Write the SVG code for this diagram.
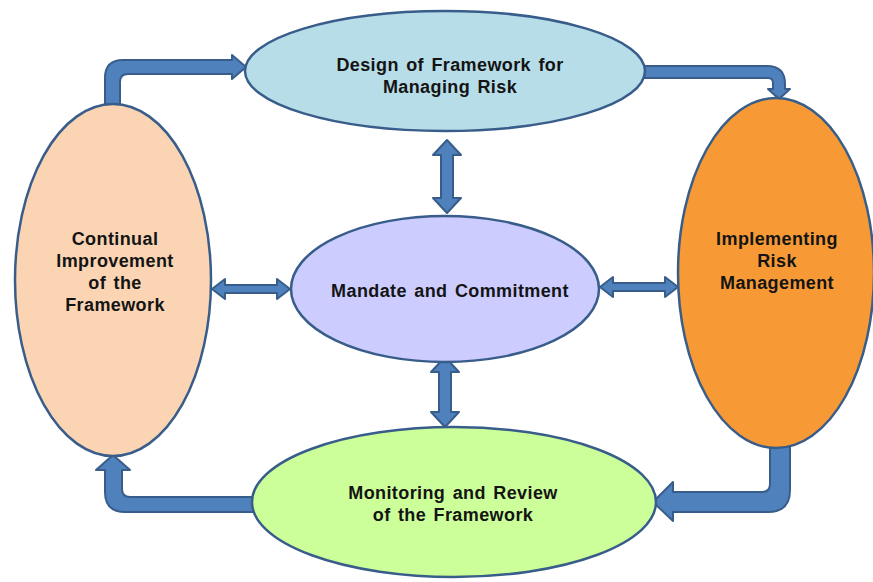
<svg xmlns="http://www.w3.org/2000/svg" width="873" height="582" viewBox="0 0 873 582">
  <style>
    .arrow { fill: #4f81bd; stroke: #385d8a; stroke-width: 2; stroke-linejoin: round; }
    .node ellipse { stroke: #385d8a; stroke-width: 2.5; }
    text { font-family: "Liberation Sans", Arial, sans-serif; font-weight: bold; font-size: 18px; letter-spacing: 0.4px; word-spacing: 2px; fill: #141414; text-anchor: middle; }
  </style>
  <rect width="873" height="582" fill="#ffffff"/>

  <g id="connectors">
    <!-- elbow: improvement -> design -->
    <path class="arrow" d="M105,104 L105,78 Q105,60 123,60 L232,60 L232,55 L246,67 L232,79 L232,74 L128,74 Q120,74 120,82 L120,104 Z"/>
    <!-- elbow: design -> implementing -->
    <path class="arrow" d="M640,66 L767,66 Q785,66 785,84 L785,89 L790,89 L779,99 L768,89 L773,89 L773,83 Q773,78 768,78 L640,78 Z"/>
    <!-- elbow: implementing -> monitoring -->
    <path class="arrow" d="M770,444 L770,484 Q770,492 762,492 L673,492 L673,482 L653,502 L673,521 L673,512 L768,512 Q790,512 790,490 L790,444 Z"/>
    <!-- elbow: monitoring -> improvement -->
    <path class="arrow" d="M260,497 L130,497 Q122,497 122,489 L122,470 L130,470 L113,455 L96,470 L105,470 L105,492 Q105,512 125,512 L260,512 Z"/>
    <!-- two-way links around the centre -->
    <path class="arrow" d="M212,289 L225,279 L225,285 L277,285 L277,279 L290,289 L277,299 L277,293 L225,293 L225,299 Z"/>
    <path class="arrow" d="M600,287 L613,277 L613,283 L665,283 L665,277 L678,287 L665,297 L665,291 L613,291 L613,297 Z"/>
    <path class="arrow" d="M447,140 L461,155 L453,155 L453,198 L461,198 L447,213 L433,198 L441,198 L441,155 L433,155 Z"/>
    <path class="arrow" d="M445,357 L459,372 L451,372 L451,412 L459,412 L445,427 L431,412 L439,412 L439,372 L431,372 Z"/>
  </g>

  <g id="design" class="node">
    <ellipse cx="445" cy="71" rx="200" ry="60" fill="#b7dde8"/>
    <text x="450" y="71">Design of Framework for</text>
    <text x="450" y="93">Managing Risk</text>
  </g>

  <g id="improvement" class="node">
    <ellipse cx="113" cy="280" rx="98" ry="176" fill="#fbd4b4"/>
    <text x="115" y="245">Continual</text>
    <text x="115" y="267">Improvement</text>
    <text x="115" y="289">of the</text>
    <text x="115" y="311">Framework</text>
  </g>

  <g id="implementing" class="node">
    <ellipse cx="776" cy="273" rx="98" ry="175" fill="#f79a36"/>
    <text x="777" y="245">Implementing</text>
    <text x="777" y="267">Risk</text>
    <text x="777" y="289">Management</text>
  </g>

  <g id="mandate" class="node">
    <ellipse cx="445" cy="289" rx="154" ry="73" fill="#ccccff"/>
    <text x="450" y="297">Mandate and Commitment</text>
  </g>

  <g id="monitoring" class="node">
    <ellipse cx="454" cy="502" rx="202" ry="75" fill="#ccff99"/>
    <text x="453" y="499">Monitoring and Review</text>
    <text x="453" y="521">of the Framework</text>
  </g>
</svg>
